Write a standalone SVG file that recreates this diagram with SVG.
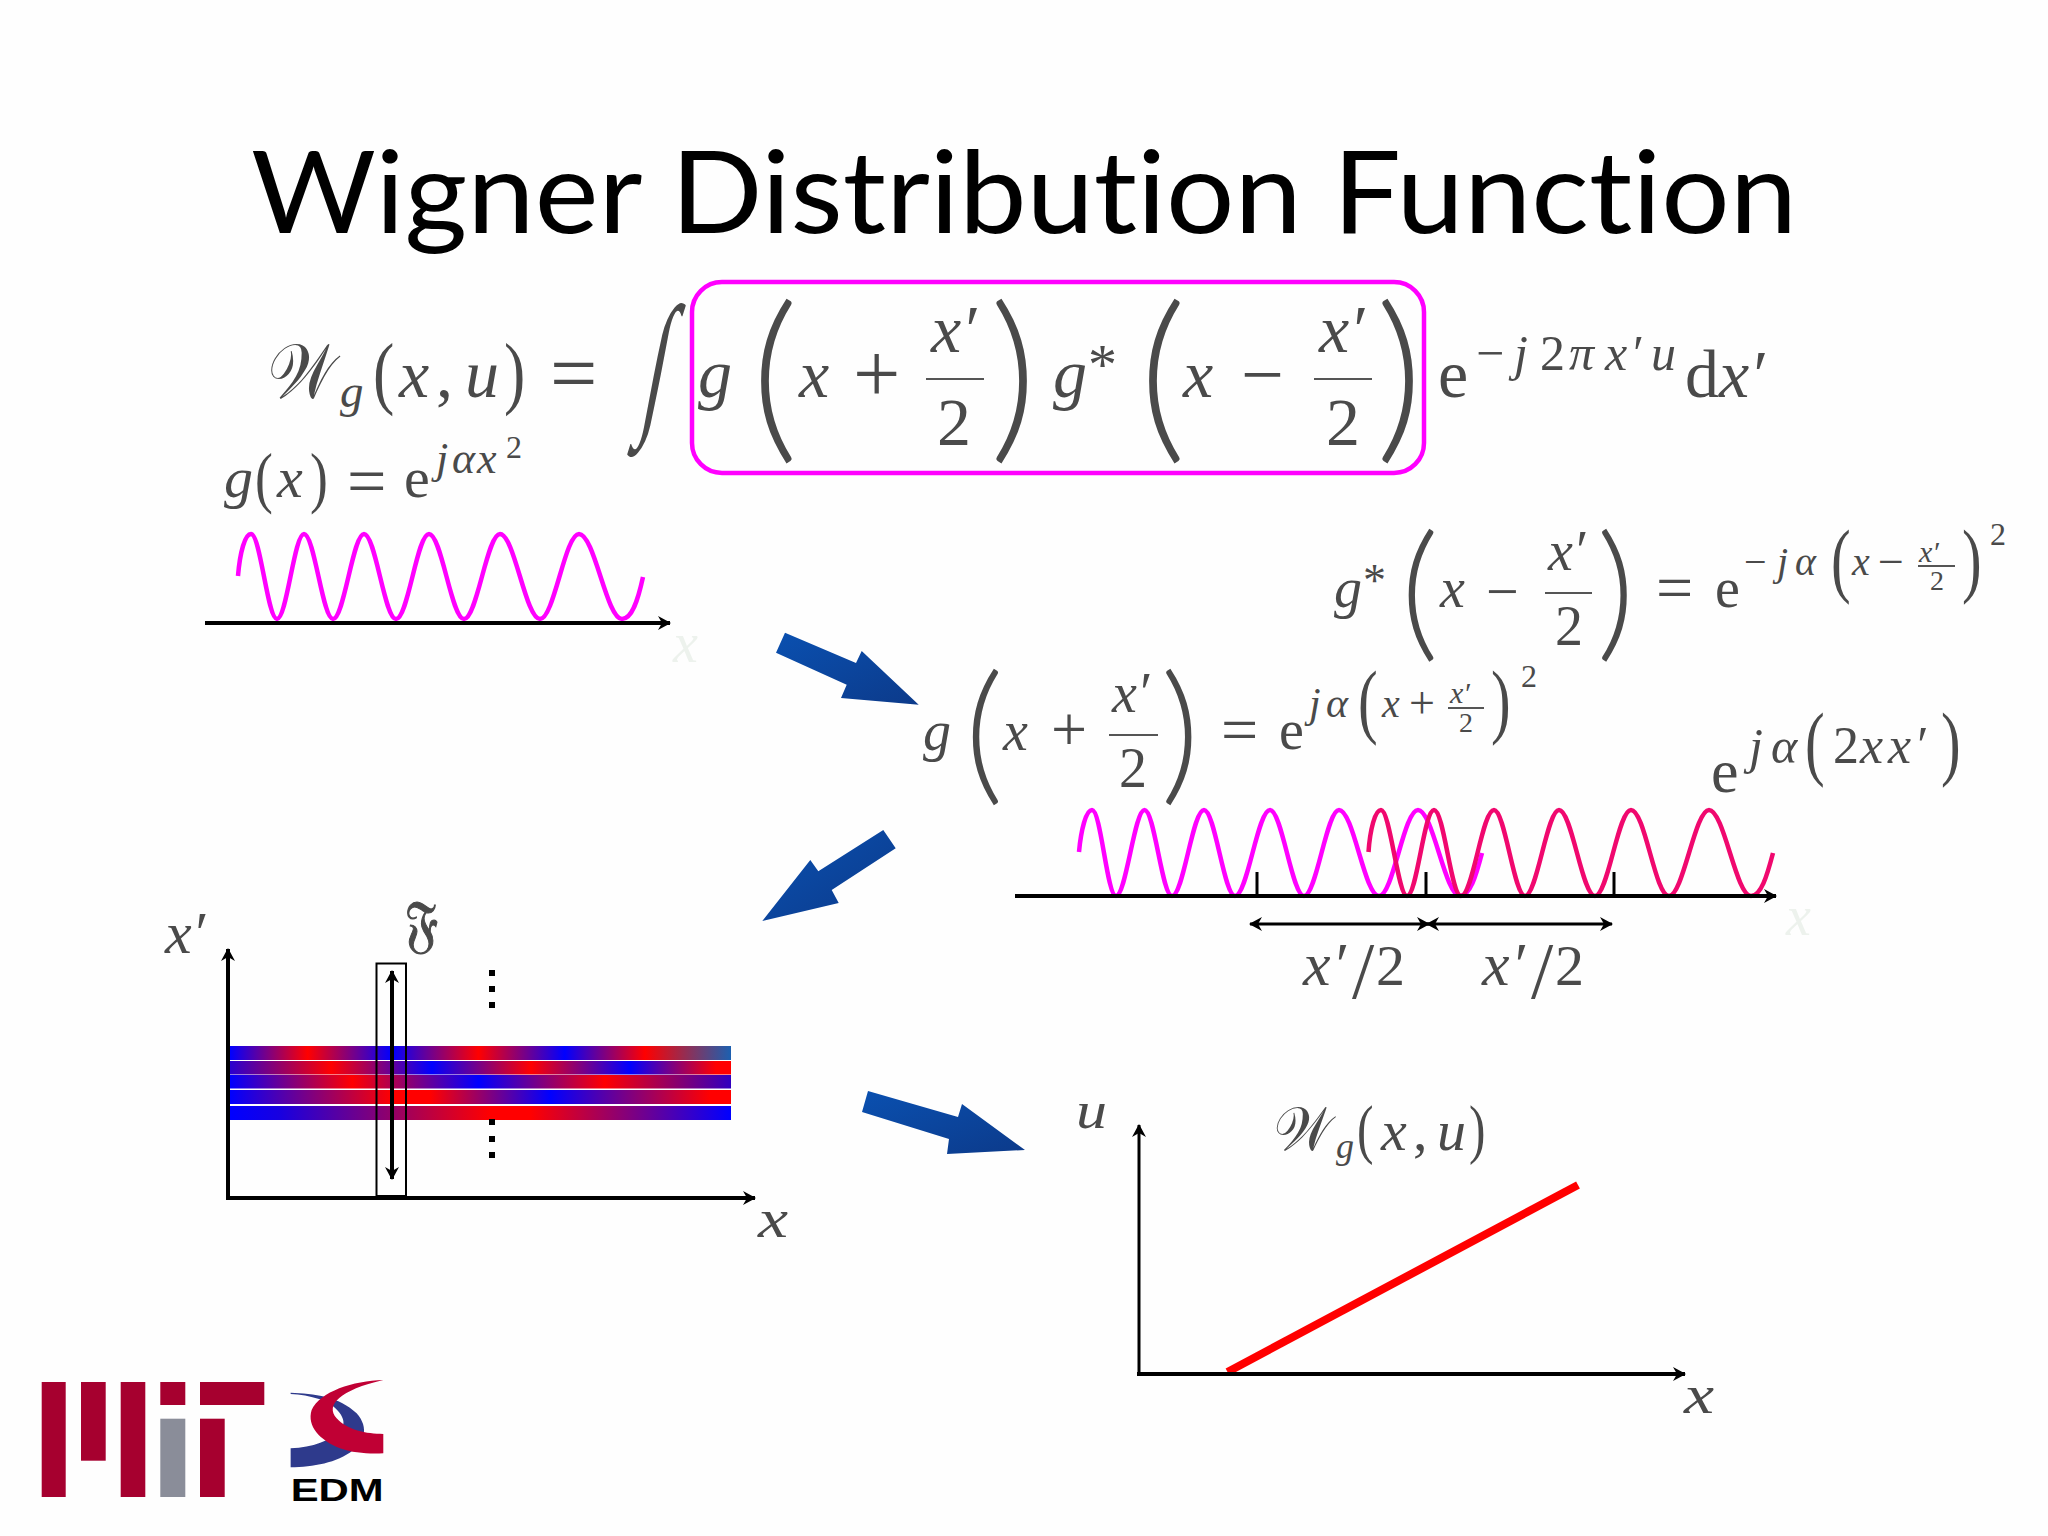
<svg xmlns="http://www.w3.org/2000/svg" width="2048" height="1536" viewBox="0 0 2048 1536">
<style>
.t{font-family:"Lato","Liberation Sans",sans-serif;font-size:115px;fill:#000;font-variant-ligatures:none}
.m{font-family:"Liberation Serif","DejaVu Serif",serif;fill:#4a4a4a}
.p{font-family:"Lato",sans-serif;font-weight:300;fill:#4a4a4a}
.i{font-style:italic}
.a{font-size:68px}.b{font-size:56px}.c{font-size:50px}.d{font-size:32px}.e{font-size:30px}
.bar{stroke:#555;stroke-width:2;fill:none}
.ax{stroke:#000;fill:none}
.wm{fill:none;stroke:#f0f;stroke-width:4.5}
.wr{fill:none;stroke:#f0086e;stroke-width:4.5}
.fa{font-family:"Liberation Serif",serif;font-style:italic;font-size:56px;fill:#edf2ed}
.mit{fill:#a6002f}
</style>
<defs>
<marker id="h" markerUnits="userSpaceOnUse" markerWidth="14" markerHeight="14" refX="12" refY="7" orient="auto-start-reverse"><path d="M0,0L13,7L0,14L4,7Z" fill="#000"/></marker>
<linearGradient id="ar" x1="0" y1="0" x2="1" y2="1"><stop offset="0" stop-color="#0a50b0"/><stop offset="1" stop-color="#0c3a8a"/></linearGradient>
<linearGradient id="s1"><stop offset="0" stop-color="#00f"/><stop offset=".155" stop-color="#f00"/><stop offset=".323" stop-color="#00f"/><stop offset=".496" stop-color="#f00"/><stop offset=".668" stop-color="#00f"/><stop offset=".828" stop-color="#f00"/><stop offset="1" stop-color="#1c60b0"/></linearGradient>
<linearGradient id="s2"><stop offset="0" stop-color="#2a00d0"/><stop offset=".202" stop-color="#f00"/><stop offset=".403" stop-color="#00f"/><stop offset=".601" stop-color="#f00"/><stop offset=".798" stop-color="#00f"/><stop offset=".97" stop-color="#f00"/></linearGradient>
<linearGradient id="s3"><stop offset="0" stop-color="#00f"/><stop offset=".244" stop-color="#f00"/><stop offset=".496" stop-color="#00f"/><stop offset=".748" stop-color="#f00"/><stop offset="1" stop-color="#3000c0"/></linearGradient>
<linearGradient id="s4"><stop offset="0" stop-color="#00f"/><stop offset=".324" stop-color="#f00"/><stop offset=".4" stop-color="#f00"/><stop offset=".639" stop-color="#00f"/><stop offset=".958" stop-color="#f00"/></linearGradient>
<linearGradient id="s5"><stop offset="0" stop-color="#00f"/><stop offset=".1" stop-color="#1800e0"/><stop offset=".52" stop-color="#f00"/><stop offset=".6" stop-color="#f00"/><stop offset="1" stop-color="#00f"/></linearGradient>
</defs>
<rect width="2048" height="1536" fill="#fefefe"/>
<g id="title"><text class="t" x="251" y="233" textLength="1546" lengthAdjust="spacingAndGlyphs">Wigner Distribution Function</text></g>

<g id="main-formula">
<text class="m" font-size="78" x="268" y="398" textLength="68" lengthAdjust="spacingAndGlyphs">𝒲</text>
<text class="m i" font-size="47" x="340" y="407">g</text>
<text class="m" font-size="80" transform="translate(373,399) scale(.8,1)">(</text>
<text class="m i a" x="399" y="397">x</text>
<text class="m a" x="436" y="397">,</text>
<text class="m i a" x="465" y="397">u</text>
<text class="m" font-size="80" transform="translate(504,399) scale(.8,1)">)</text>
<text class="m" font-size="84" x="550" y="402">=</text>
<text class="m" font-size="157" transform="translate(639,415) skewX(-11) scale(.5,1)">∫</text>
<text class="m i a" x="698" y="397">g</text>
<text class="p" font-size="184" x="751" y="439">(</text>
<text class="m i a" x="799" y="397">x</text>
<text class="m" font-size="84" x="853" y="402">+</text>
<text class="m i a" x="931" y="352">x′</text>
<line class="bar" x1="926" y1="379" x2="984" y2="379"/>
<text class="m a" x="937" y="445">2</text>
<text class="p" font-size="184" x="989.5" y="439">)</text>
<text class="m i a" x="1053" y="397">g</text>
<text class="m" font-size="58" x="1088" y="384">*</text>
<text class="p" font-size="184" x="1139" y="439">(</text>
<text class="m i a" x="1183" y="397">x</text>
<text class="m" font-size="76" x="1241" y="400">−</text>
<text class="m i a" x="1319" y="352">x′</text>
<line class="bar" x1="1314" y1="379" x2="1372" y2="379"/>
<text class="m a" x="1326" y="445">2</text>
<text class="p" font-size="184" x="1375.5" y="439">)</text>
<text class="m a" x="1438" y="397">e</text>
<text class="m c" x="1476 1514 1540 1569 1605 1630 1651" y="370">−<tspan class="i">j</tspan>2<tspan class="i">πx′u</tspan></text>
<text class="m a" x="1685" y="397">d<tspan class="i">x′</tspan></text>
</g>
<g id="highlight"><rect x="692" y="282" width="732" height="191" rx="30" fill="none" stroke="#f0f" stroke-width="4.5"/></g>

<g id="g-def">
<text class="m i" font-size="58" x="224" y="497">g</text>
<text class="m" font-size="67" transform="translate(255,500) scale(.8,1)">(</text>
<text class="m i" font-size="58" x="277" y="497">x</text>
<text class="m" font-size="67" transform="translate(310,500) scale(.8,1)">)</text>
<text class="m" font-size="70" x="347" y="505">=</text>
<text class="m" font-size="58" x="404" y="497">e</text>
<text class="m i" font-size="44" x="436 452 477" y="473">jαx</text>
<text class="m d" x="506" y="458">2</text>
</g>
<g id="wave-left">
<path class="wm" d="M238,576C240,552 245,534 251,534C260.4,534 267.6,619 277,619C286.7,619 294.3,534 304,534C314.4,534 322.6,619 333,619C344,619 353,534 364,534C375.5,534 384.5,619 396,619C408,619 417,534 429,534C441.6,534 451.4,619 464,619C477,619 487,534 500,534C514.4,534 525.6,619 540,619C554,619 565,534 579,534C594.5,534 606.5,619 622,619C632,619 638,600 643,577"/>
<text class="fa" x="673" y="662">x</text>
</g>

<g id="gstar-formula">
<text class="m i b" x="1334" y="607">g</text>
<text class="m" font-size="46" x="1363" y="596">*</text>
<text class="p" font-size="149" x="1400.5" y="642">(</text>
<text class="m i b" x="1440" y="607">x</text>
<text class="m" font-size="58" x="1486" y="611">−</text>
<text class="m i b" x="1548" y="570">x′</text>
<line class="bar" x1="1545" y1="593" x2="1592" y2="593"/>
<text class="m b" x="1555" y="645">2</text>
<text class="p" font-size="149" x="1596.5" y="642">)</text>
<text class="m" font-size="66" x="1656" y="610">=</text>
<text class="m b" x="1715" y="607">e</text>
<text class="m" font-size="40" x="1744 1777 1795" y="575">−<tspan class="i">jα</tspan></text>
<text class="m" font-size="82" transform="translate(1831,587) scale(.72,1)">(</text>
<text class="m i" font-size="40" x="1852" y="575">x</text>
<text class="m" font-size="46" x="1878" y="577">−</text>
<text class="m i e" x="1919" y="562">x′</text>
<line class="bar" x1="1918" y1="566" x2="1955" y2="566"/>
<text class="m" font-size="28" x="1930" y="590">2</text>
<text class="m" font-size="82" transform="translate(1962,587) scale(.72,1)">)</text>
<text class="m d" x="1990" y="545">2</text>
</g>

<g id="g-formula">
<text class="m i b" x="923" y="750">g</text>
<text class="p" font-size="152" x="964.4" y="784.5">(</text>
<text class="m i b" x="1003" y="750">x</text>
<text class="m" font-size="64" x="1051" y="751">+</text>
<text class="m i b" x="1112" y="712">x′</text>
<line class="bar" x1="1109" y1="735" x2="1158" y2="735"/>
<text class="m b" x="1119" y="787">2</text>
<text class="p" font-size="152" x="1160.5" y="784.5">)</text>
<text class="m" font-size="66" x="1221" y="752">=</text>
<text class="m b" x="1279" y="749">e</text>
<text class="m i" font-size="42" x="1309 1326" y="717">jα</text>
<text class="m" font-size="82" transform="translate(1358,728) scale(.72,1)">(</text>
<text class="m i" font-size="40" x="1382" y="717">x</text>
<text class="m" font-size="46" x="1409" y="718">+</text>
<text class="m i e" x="1450" y="703">x′</text>
<line class="bar" x1="1448" y1="708" x2="1484" y2="708"/>
<text class="m" font-size="28" x="1459" y="732">2</text>
<text class="m" font-size="82" transform="translate(1491,728) scale(.72,1)">)</text>
<text class="m d" x="1521" y="687">2</text>
</g>

<g id="cross-term">
<text class="m" font-size="62" x="1711" y="792">e</text>
<text class="m i" font-size="50" x="1749 1771" y="763">jα</text>
<text class="m" font-size="82" transform="translate(1805,770) scale(.72,1)">(</text>
<text class="m" font-size="52" x="1833 1860 1888 1914" y="763">2<tspan class="i">xx′</tspan></text>
<text class="m" font-size="82" transform="translate(1941,770) scale(.72,1)">)</text>
</g>

<g id="waves-mid">
<path class="wm" d="M1079,852C1081,830 1086,810 1092,810C1101,810 1107,896 1116,896C1126,896 1134.5,810 1144.5,810C1154.5,810 1162,896 1172,896C1183.5,896 1192.5,810 1204,810C1215,810 1224,896 1235,896C1247.5,896 1257.5,810 1270,810C1282,810 1292,896 1304,896C1316.5,896 1326.5,810 1339,810C1353.5,810 1364.5,896 1379,896C1393,896 1404,810 1418,810C1433,810 1445,896 1460,896C1470,896 1476,876 1482,853"/>
<path class="wr" d="M1368.5,852C1370,830 1375,810 1381,810C1390,810 1398,896 1407,896C1417,896 1424,810 1434,810C1444,810 1451,896 1461,896C1473,896 1482,810 1494,810C1505,810 1514,896 1525,896C1537,896 1547,810 1559,810C1572,810 1582,896 1595,896C1608,896 1618,810 1631,810C1645,810 1655,896 1669,896C1683,896 1695,810 1709,810C1724,810 1736,896 1751,896C1761,896 1767,876 1773,853"/>
<text class="fa" x="1786" y="935">x</text>
<text class="m i" font-size="62" x="1303 1332" y="985">x′</text><text class="m" font-size="80" x="1352" y="998">/</text><text class="m" font-size="58" x="1376" y="985">2</text>
<text class="m i" font-size="62" x="1482 1511" y="985">x′</text><text class="m" font-size="80" x="1531" y="998">/</text><text class="m" font-size="58" x="1555" y="985">2</text>
</g>

<g id="stripes">
<rect x="230" y="1046" width="501" height="14" fill="url(#s1)"/>
<rect x="230" y="1061" width="501" height="13.5" fill="url(#s2)"/>
<rect x="230" y="1075" width="501" height="13.5" fill="url(#s3)"/>
<rect x="230" y="1090" width="501" height="14" fill="url(#s4)"/>
<rect x="230" y="1106" width="501" height="14" fill="url(#s5)"/>
<rect x="376.5" y="963.5" width="29.5" height="232.5" fill="none" stroke="#000" stroke-width="2"/>
<rect x="489" y="970" width="6" height="6"/><rect x="489" y="986" width="6" height="6"/><rect x="489" y="1002" width="6" height="6"/>
<rect x="489" y="1119" width="6" height="6"/><rect x="489" y="1136" width="6" height="6"/><rect x="489" y="1152" width="6" height="6"/>
<text class="m i" font-size="60" x="165" y="953">x′</text>
<text class="m" font-size="62" x="405" y="945" textLength="33" lengthAdjust="spacingAndGlyphs" stroke="#4a4a4a" stroke-width="1.2">𝔉</text>
<text class="m i" font-size="54" x="758" y="1237" textLength="30" lengthAdjust="spacingAndGlyphs">x</text>
</g>

<g id="wigner-plot">
<text class="m i" font-size="52" x="1076" y="1128" textLength="31" lengthAdjust="spacingAndGlyphs">u</text>
<text class="m" font-size="62" x="1274" y="1150" textLength="58" lengthAdjust="spacingAndGlyphs">𝒲</text>
<text class="m i" font-size="36" x="1336" y="1158">g</text>
<text class="m" font-size="66" transform="translate(1357,1151) scale(.75,1)">(</text>
<text class="m i" font-size="58" x="1381" y="1150">x</text>
<text class="m" font-size="58" x="1413" y="1150">,</text>
<text class="m i" font-size="58" x="1437" y="1150">u</text>
<text class="m" font-size="66" transform="translate(1469,1151) scale(.75,1)">)</text>
<text class="m i" font-size="54" x="1684" y="1413" textLength="30" lengthAdjust="spacingAndGlyphs">x</text>
<line x1="1227.5" y1="1372" x2="1578" y2="1185" stroke="#f00" stroke-width="8"/>
</g>

<g id="connectors">
<line class="ax" stroke-width="4" x1="205" y1="623" x2="670" y2="623" marker-end="url(#h)"/>
<line class="ax" stroke-width="4" x1="1015" y1="896" x2="1776" y2="896" marker-end="url(#h)"/>
<line class="ax" stroke-width="3" x1="1257" y1="872" x2="1257" y2="896"/>
<line class="ax" stroke-width="3" x1="1426" y1="872" x2="1426" y2="896"/>
<line class="ax" stroke-width="3" x1="1614" y1="872" x2="1614" y2="896"/>
<line class="ax" stroke-width="3" x1="1250" y1="924" x2="1429" y2="924" marker-start="url(#h)" marker-end="url(#h)"/>
<line class="ax" stroke-width="3" x1="1427" y1="924" x2="1612" y2="924" marker-start="url(#h)" marker-end="url(#h)"/>
<line class="ax" stroke-width="4" x1="228" y1="1198" x2="228" y2="949" marker-end="url(#h)"/>
<line class="ax" stroke-width="4" x1="226" y1="1198" x2="755" y2="1198" marker-end="url(#h)"/>
<line class="ax" stroke-width="4" x1="392" y1="971" x2="392" y2="1179" marker-start="url(#h)" marker-end="url(#h)"/>
<line class="ax" stroke-width="3" x1="1139" y1="1374" x2="1139" y2="1125" marker-end="url(#h)"/>
<line class="ax" stroke-width="4" x1="1137" y1="1374" x2="1685" y2="1374" marker-end="url(#h)"/>
<polygon id="arrow-a" fill="url(#ar)" points="785,632.7 856,663 861.7,651 918.7,704.7 841,698 846.7,684.7 776,652.7"/>
<polygon id="arrow-b" fill="url(#ar)" points="883.3,830 895.7,848.3 831.7,890 838.7,903 762.3,921 810.3,860 818.3,871.3"/>
<polygon id="arrow-c" fill="url(#ar)" points="868,1091 958,1117 962,1104 1025,1150 947,1154 949,1139 862,1112"/>
</g>

<g id="logo-mit">
<rect class="mit" x="41.7" y="1382" width="24" height="115"/>
<rect class="mit" x="81" y="1382" width="24.7" height="78.7"/>
<rect class="mit" x="120.7" y="1382" width="24.6" height="115"/>
<rect class="mit" x="160.3" y="1382" width="25" height="23"/>
<rect x="160.3" y="1418.7" width="25" height="78.3" fill="#8a8d99"/>
<rect class="mit" x="200" y="1382" width="64.3" height="23"/>
<rect class="mit" x="200" y="1418.7" width="24.7" height="78.3"/>
</g>
<g id="logo-edm">
<g transform="translate(20,1360) scale(.3333)">
<path fill="#2e3a8c" d="M812,98C880,100 960,110 1010,160C1050,205 1030,250 1000,270C950,310 880,320 812,322L812,265C880,262 930,245 965,205C985,180 950,135 900,118C870,108 840,103 812,102Z"/>
<path fill="#c00034" d="M1090,60C1000,62 900,95 875,150C860,200 900,240 960,265C1000,280 1050,282 1090,280L1090,222C1040,222 980,210 950,175C915,135 960,90 1090,60Z"/>
</g>
<text x="290.7" y="1501" font-family="Liberation Sans" font-weight="700" font-size="32" textLength="93" lengthAdjust="spacingAndGlyphs" fill="#000">EDM</text>
</g>
</svg>
